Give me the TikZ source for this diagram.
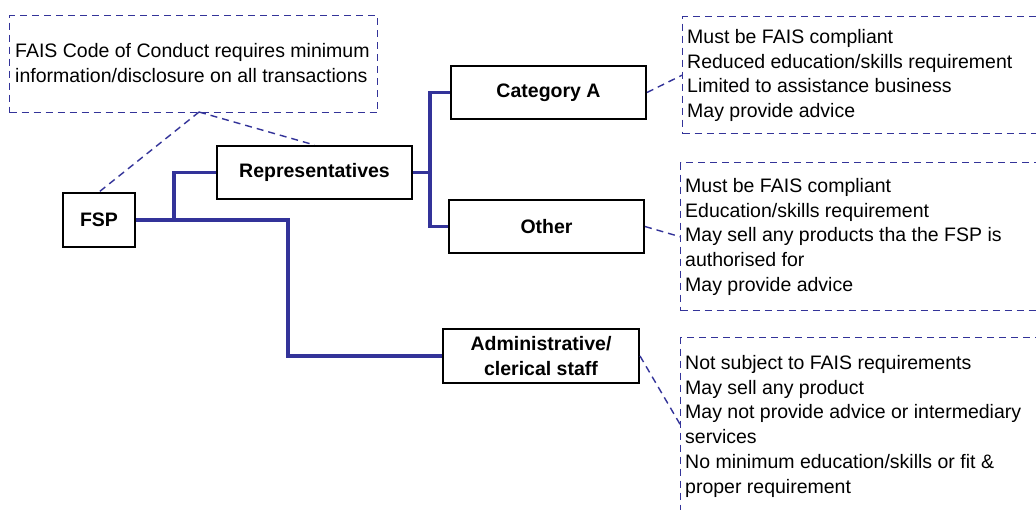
\documentclass[tikz,border=0pt]{standalone}
\usepackage{fontspec}
\setmainfont{Liberation Sans}
\definecolor{linkblue}{RGB}{51,51,153}
\begin{document}
\begin{tikzpicture}[x=1pt,y=-1pt,
  every node/.style={font=\fontsize{19.5}{24.8}\selectfont},
  orgbox/.style={draw=black,line width=2pt,fill=white,inner sep=0pt,
    minimum height=53pt,font=\fontsize{19.5}{25}\selectfont\bfseries,align=center},
  callout/.style={draw=linkblue,line width=1.4pt,dash pattern=on 7pt off 5pt,
    rectangle,anchor=north west,inner sep=0pt},
  calltext/.style={anchor=north west,inner sep=0pt,align=left},
  tree/.style={draw=linkblue,line width=3.5pt},
  note/.style={draw=linkblue,line width=1.4pt,dash pattern=on 7pt off 5pt}]
\clip (0,0) rectangle (1036,509);
\fill[white] (0,0) rectangle (1036,509);

% callout boxes
\node[callout,minimum width=368pt,minimum height=97pt] (cL) at (9,15) {};
\node[callout,minimum width=400pt,minimum height=117pt] (cA) at (682,16) {};
\node[callout,minimum width=400pt,minimum height=148pt] (cO) at (680,162) {};
\node[callout,minimum width=400pt,minimum height=173pt] (cD) at (680,337) {};

\node[calltext] (tL) at (15,43) {FAIS Code of Conduct requires minimum\\information/disclosure on all transactions};
\node[calltext] (tA) at (687,29) {Must be FAIS compliant\\Reduced education/skills requirement\\Limited to assistance business\\May provide advice};
\node[calltext] (tO) at (685,178) {Must be FAIS compliant\\Education/skills requirement\\May sell any products tha the FSP is\\authorised for\\May provide advice};
\node[calltext] (tD) at (685,355) {Not subject to FAIS requirements\\May sell any product\\May not provide advice or intermediary\\services\\No minimum education/skills or fit \&\\proper requirement};

% boxes
\node[orgbox,minimum width=72pt,minimum height=54pt] (fsp) at (99,220) {FSP};
\node[orgbox,minimum width=195pt] (rep) at (314.5,172.5) {Representatives};
\node[orgbox,minimum width=195pt] (catA) at (548.5,92.5) {Category A};
\node[orgbox,minimum width=195pt] (other) at (546.5,226.5) {Other};
\node[orgbox,minimum width=196pt,minimum height=54pt] (admin) at (541,356) {Administrative/\\clerical staff};

% junctions
\coordinate (j1) at (174,220);
\coordinate (j2) at (288,220);
\coordinate (j3) at (430,172.5);
\coordinate (cLp) at (199,112);

% tree connectors
\draw[tree] (fsp.east) -- (j1) |- (rep.west);
\draw[tree] (j1) -- (j2) |- (admin.west);
\draw[tree] (rep.east) -- (j3) |- (catA.west);
\draw[tree] (j3) |- (other.west);

% dashed callout connectors
\draw[note] (cLp) -- (fsp.north);
\draw[note] (cLp) -- (rep.north);
\draw[note] (catA.east) -- (cA.west);
\draw[note] (other.east) -- (cO.west);
\draw[note] (admin.east) -- (cD.west);

% redraw boxes on top
\node[orgbox,minimum width=72pt,minimum height=54pt] at (99,220) {FSP};
\node[orgbox,minimum width=195pt] at (314.5,172.5) {Representatives};
\end{tikzpicture}
\end{document}
